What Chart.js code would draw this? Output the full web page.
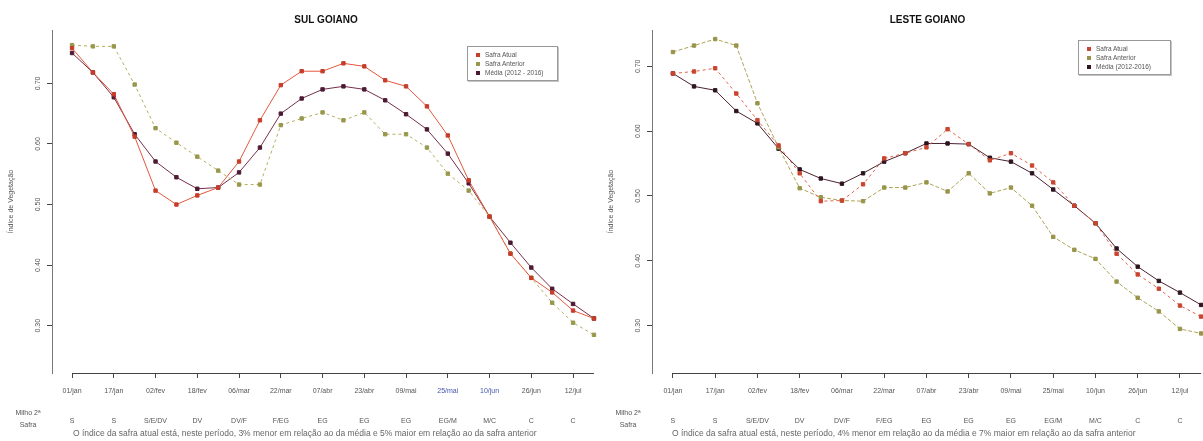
<!DOCTYPE html>
<html>
<head>
<meta charset="utf-8">
<script src="https://cdn.jsdelivr.net/npm/chart.js@4.4.1/dist/chart.umd.min.js"></script>
<style>
  body { margin: 0; background: #fff; width: 1203px; height: 441px; overflow: hidden; position: relative; font-family: "Liberation Sans", Arial, sans-serif; }
  .panel { position: absolute; top: 0; height: 441px; }
  .legend { position: absolute; border: 1px solid #999; box-shadow: 1px 1px 0 #c4c4c4; background: #fff; font-size: 6.5px; color: #555; padding: 3px 5px 3px 8px; line-height: 9px; white-space: nowrap; }
  .legend .mk { display: inline-block; width: 4px; height: 4px; margin-right: 5px; vertical-align: middle; }
</style>
</head>
<body>
<div class="panel" style="left:0;width:600px"><canvas id="sul" width="600" height="441"></canvas></div>
<div class="panel" style="left:600px;width:603px"><canvas id="leste" width="603" height="441"></canvas></div>
<div class="legend" id="legSul" style="left:467px;top:46px;width:76px"></div>
<div class="legend" id="legLeste" style="left:1078px;top:40px;width:78px"></div>
<script>
// datas (composições de 8 dias) - rótulo a cada 2 pontos
const datas = ["01/jan", "17/jan", "02/fev", "18/fev", "06/mar", "22/mar", "07/abr",
  "23/abr", "09/mai", "25/mai", "10/jun", "26/jun", "12/jul"];
const estadios = ["S", "S", "S/E/DV", "DV", "DV/F", "F/EG", "EG", "EG", "EG", "EG/M", "M/C", "C", "C"];
const yTicks = [0.3, 0.4, 0.5, 0.6, 0.7];
const destaque = ["25/mai", "10/jun"];

// SUL GOIANO
const sulAtual = [0.758, 0.718, 0.682, 0.612, 0.523, 0.500, 0.515, 0.528, 0.571, 0.639, 0.697, 0.720, 0.720,
  0.733, 0.728, 0.705, 0.695, 0.662, 0.614, 0.540, 0.480, 0.419, 0.379, 0.355, 0.325, 0.312];
const sulAnterior = [0.763, 0.761, 0.761, 0.698, 0.626, 0.602, 0.579, 0.556, 0.533, 0.533, 0.631, 0.642, 0.652,
  0.639, 0.652, 0.616, 0.616, 0.594, 0.551, 0.523, 0.480, 0.419, 0.379, 0.338, 0.305, 0.285];
const sulMedia = [0.750, 0.718, 0.677, 0.616, 0.571, 0.545, 0.526, 0.528, 0.553, 0.594, 0.650, 0.675, 0.690,
  0.695, 0.690, 0.672, 0.649, 0.624, 0.584, 0.535, 0.480, 0.437, 0.396, 0.361, 0.336, 0.312];

// LESTE GOIANO
const lesteAtual = [0.689, 0.692, 0.697, 0.658, 0.617, 0.578, 0.535, 0.492, 0.493, 0.518, 0.558, 0.566, 0.575,
  0.603, 0.580, 0.555, 0.566, 0.547, 0.521, 0.485, 0.458, 0.411, 0.379, 0.357, 0.331, 0.314];
const lesteAnterior = [0.722, 0.732, 0.742, 0.732, 0.643, 0.575, 0.512, 0.498, 0.493, 0.492, 0.513, 0.513, 0.521,
  0.507, 0.535, 0.504, 0.513, 0.485, 0.437, 0.417, 0.403, 0.368, 0.343, 0.322, 0.295, 0.288];
const lesteMedia = [0.689, 0.669, 0.663, 0.631, 0.612, 0.573, 0.541, 0.527, 0.519, 0.535, 0.553, 0.566, 0.581,
  0.581, 0.580, 0.559, 0.553, 0.535, 0.510, 0.485, 0.458, 0.419, 0.391, 0.369, 0.351, 0.332];

Chart.defaults.font.family = '"Liberation Sans", Arial, sans-serif';

const extras = {
  id: "extras",
  afterDraw(chart, args, opts) {
    const ctx = chart.ctx;
    const x = chart.scales.x;
    const yb = chart.chartArea.bottom + 0.5;
    ctx.save();
    ctx.strokeStyle = "#444";
    ctx.lineWidth = 1;
    ctx.beginPath();
    ctx.moveTo(x.getPixelForValue(0), yb);
    ctx.lineTo(Math.min(x.getPixelForValue(opts.fim), chart.chartArea.right), yb);
    ctx.stroke();
    ctx.fillStyle = "#555";
    ctx.font = '7px "Liberation Sans", Arial, sans-serif';
    ctx.textAlign = "center";
    ctx.textBaseline = "middle";
    ctx.fillText("Milho 2ª", 28, 413);
    ctx.fillText("Safra", 28, 425);
    ctx.textAlign = "left";
    ctx.fillStyle = "#666";
    ctx.font = '8.5px "Liberation Sans", Arial, sans-serif';
    ctx.fillText(opts.nota, opts.notaX, 434);
    ctx.restore();
  }
};

function serie(label, valores, cor, corPonto, dash) {
  return {
    label: label,
    data: valores.map((v, i) => ({ x: i, y: v })),
    borderColor: cor,
    backgroundColor: corPonto,
    pointBorderColor: corPonto,
    pointBackgroundColor: corPonto,
    borderWidth: 1,
    borderDash: dash,
    pointStyle: "rect",
    pointRadius: 2.4,
    tension: 0
  };
}

// sem margem extra para o primeiro/último rótulo do eixo x
function semMargem(s, h) {
  s.height = h;
  s.paddingLeft = 0;
  s.paddingRight = 0;
}

function grafico(id, titulo, datasets, xmin, xmax, ymin, ymax, nota, notaX, azul) {
  return new Chart(document.getElementById(id), {
    type: "line",
    data: { datasets: datasets },
    options: {
      responsive: false,
      animation: false,
      layout: { autoPadding: false, padding: { left: 0, right: 0, top: 0, bottom: 13.4 } },
      scales: {
        x: {
          type: "linear",
          min: xmin,
          max: xmax,
          afterBuildTicks: s => { s.ticks = datas.map((d, k) => ({ value: 2 * k })); },
          afterFit: s => semMargem(s, 28),
          ticks: {
            autoSkip: false,
            maxRotation: 0,
            padding: 9,
            font: { size: 7 },
            color: c => (azul && destaque.includes(datas[c.index]) ? "#4455aa" : "#555"),
            callback: v => datas[v / 2]
          },
          grid: { drawOnChartArea: false, tickLength: 5, color: "#444" },
          border: { display: false }
        },
        x2: {
          type: "linear",
          position: "bottom",
          min: xmin,
          max: xmax,
          afterBuildTicks: s => { s.ticks = estadios.map((d, k) => ({ value: 2 * k })); },
          afterFit: s => semMargem(s, 26.6),
          ticks: {
            autoSkip: false,
            maxRotation: 0,
            padding: 8,
            font: { size: 7 },
            color: "#555",
            callback: v => estadios[v / 2]
          },
          grid: { display: false },
          border: { display: false }
        },
        y: {
          min: ymin,
          max: ymax,
          afterBuildTicks: s => { s.ticks = yTicks.map(v => ({ value: v })); },
          afterFit: s => { s.width = 52; },
          ticks: {
            minRotation: 90,
            maxRotation: 90,
            crossAlign: "center",
            padding: 2,
            font: { size: 7 },
            color: "#555",
            callback: v => v.toFixed(2)
          },
          grid: { drawOnChartArea: false, tickLength: 5, color: "#444" },
          border: { color: "#777" },
          title: { display: true, text: "Índice de Vegetação", font: { size: 7 }, color: "#555", padding: { top: 7, bottom: 0 } }
        }
      },
      plugins: {
        legend: { display: false },
        tooltip: { enabled: false },
        title: {
          display: true,
          text: titulo,
          fullSize: false,
          color: "#111",
          font: { size: 10, weight: "bold" },
          padding: { top: 14, bottom: 4 }
        },
        extras: { fim: 25, nota: nota, notaX: notaX }
      }
    },
    plugins: [extras]
  });
}

const sul = grafico("sul", "SUL GOIANO", [
  serie("Safra Atual", sulAtual, "#e4573d", "#c63d2a", []),
  serie("Safra Anterior", sulAnterior, "#b5ae5e", "#98984c", [3, 3]),
  serie("Média (2012 - 2016)", sulMedia, "#74304a", "#4d1a33", [])
], -0.96, 25.29, 0.222, 0.788,
  "O índice da safra atual está, neste período, 3% menor em relação ao da média e 5% maior em relação ao da safra anterior",
  73, true);

const leste = grafico("leste", "LESTE GOIANO", [
  serie("Safra Atual", lesteAtual, "#e2634c", "#c9452f", [3, 3]),
  serie("Safra Anterior", lesteAnterior, "#aea458", "#99944a", [4, 2]),
  serie("Média (2012-2016)", lesteMedia, "#4a2233", "#2e1420", [])
], -0.99, 25.09, 0.227, 0.756,
  "O índice da safra atual está, neste período, 4% menor em relação ao da média e 7% maior em relação ao da safra anterior",
  72, false);

function legenda(el, chart) {
  el.innerHTML = chart.data.datasets.map(d =>
    '<div><span class="mk" style="background:' + d.pointBackgroundColor + '"></span>' + d.label + "</div>"
  ).join("");
}
legenda(document.getElementById("legSul"), sul);
legenda(document.getElementById("legLeste"), leste);
</script>
</body>
</html>
